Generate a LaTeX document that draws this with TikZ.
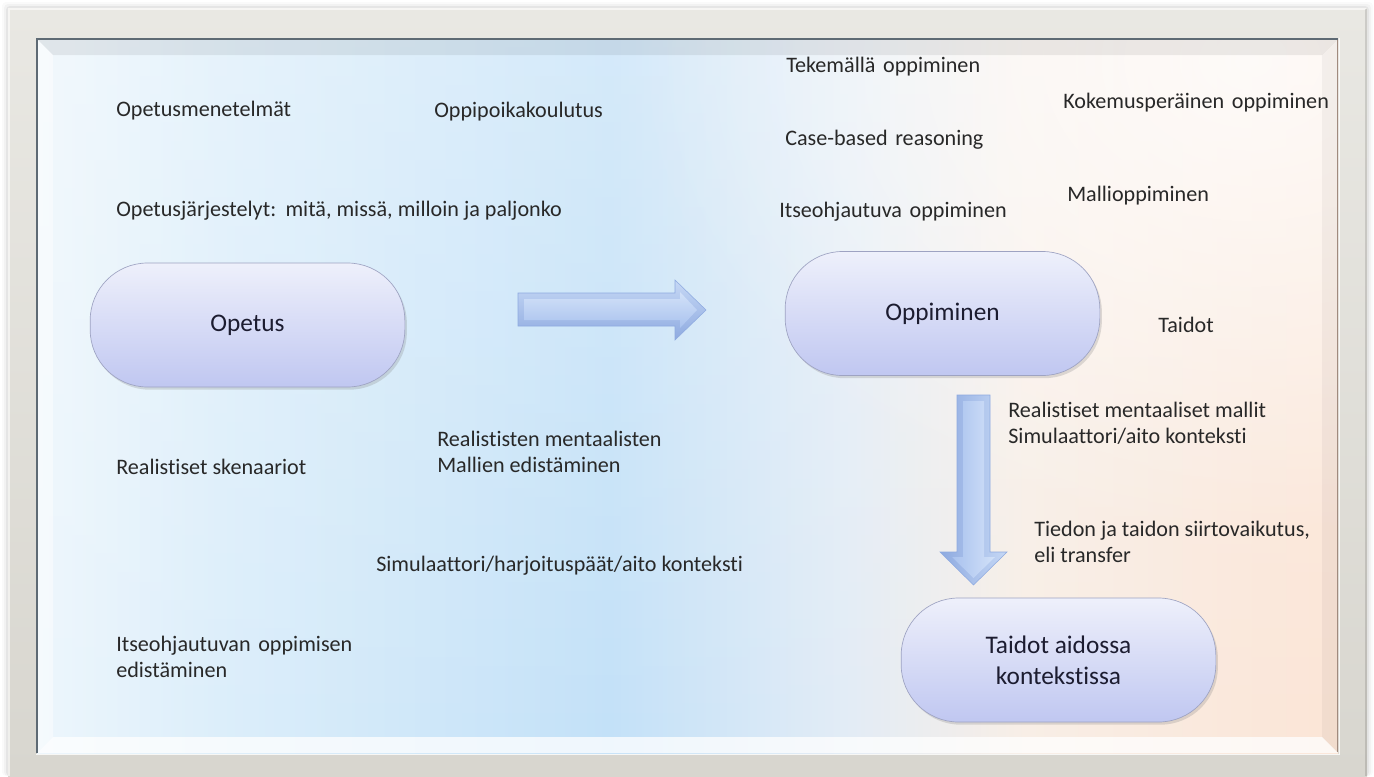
\documentclass[tikz,border=0pt]{standalone}
\usepackage{fontspec}
\setmainfont{Carlito}[Ligatures=NoCommon]
\usetikzlibrary{shadows,fadings}
\definecolor{framegreyA}{HTML}{E9E8E3}
\definecolor{framegreyB}{HTML}{D8D6CF}
\definecolor{txtgrey}{HTML}{282828}
\definecolor{nodetxt}{HTML}{1C1C30}
\definecolor{nodetop}{HTML}{EEF0FB}
\definecolor{nodebot}{HTML}{C0C7F1}
\definecolor{nodeline}{HTML}{9EA3C2}
\definecolor{arrA}{HTML}{8EAAE0}
\definecolor{arrB}{HTML}{C6D8F5}
\definecolor{arrC}{HTML}{A9C2EE}
\definecolor{arrD}{HTML}{D2E1F8}
\definecolor{bg0}{HTML}{EDF6FC}
\definecolor{bg1}{HTML}{DCEEFA}
\definecolor{bg2}{HTML}{C3E1F8}
\definecolor{bg3}{HTML}{E2ECF6}
\definecolor{bg4}{HTML}{F8EEE6}
\definecolor{bg5}{HTML}{FBE5D6}
\definecolor{edgeTL}{HTML}{5E6A74}
\definecolor{edgeR}{HTML}{A08A7E}
\pgfdeclarehorizontalshading{bgshade}{100bp}{color(0bp)=(bg0); color(25bp)=(bg0); color(32bp)=(bg1); color(47bp)=(bg2); color(56bp)=(bg3); color(63bp)=(bg4); color(75bp)=(bg5); color(100bp)=(bg5)}
\tikzfading[name=topfade, top color=transparent!70, bottom color=transparent!100]
\tikzfading[name=cornerfade, inner color=transparent!25, outer color=transparent!100]
\newcommand{\wsp}{\hspace{0.12em} }
\tikzset{
  txt/.style={inner sep=0pt, anchor=base west, text=txtgrey, font=\fontsize{16.6}{20}\selectfont},
  pill/.style={rectangle, rounded corners=43pt, minimum width=236pt, minimum height=93pt,
    top color=nodetop, bottom color=nodebot, draw=nodeline, line width=0.5pt,
    text=nodetxt, font=\fontsize{19}{23}\selectfont, align=center,
    drop shadow={shadow xshift=1.5pt, shadow yshift=-2pt, opacity=0.25}},
}
\begin{document}
\begin{tikzpicture}[x=0.75pt,y=-0.75pt]
\useasboundingbox (0,0) rectangle (1374,776);
\fill[white] (0,0) rectangle (1374,776);
% soft shadow around the frame
\foreach \d/\o in {6/0.02,4/0.03,2/0.05}{
  \fill[black,opacity=\o,rounded corners=3pt] (8-\d,8-\d) rectangle (1367+\d,776);
}
% outer frame
\shade[top color=framegreyA, bottom color=framegreyB] (8,8) rectangle (1367,776);
\draw[white,opacity=0.6,line width=0.8pt] (9,776) -- (9,9) -- (1366,9);
\draw[black,opacity=0.12,line width=0.8pt] (1366,9) -- (1366,776);
% inner picture
\shade[shading=bgshade] (37,39) rectangle (1338,753);
\fill[white,path fading=topfade] (37,39) rectangle (1338,753);
\begin{scope}
  \clip (37,39) rectangle (1338,753);
  \fill[white,path fading=cornerfade,fit fading=true] (1250,60) ellipse [x radius=620, y radius=480];
\end{scope}
% bevels
\fill[black,opacity=0.07] (37,39) -- (1338,39) -- (1322,55) -- (53,55) -- cycle;
\fill[white,opacity=0.45] (37,39) -- (53,55) -- (53,737) -- (37,753) -- cycle;
\fill[white,opacity=0.75] (37,753) -- (53,737) -- (1322,737) -- (1338,753) -- cycle;
\fill[black,opacity=0.04] (1338,39) -- (1338,753) -- (1322,737) -- (1322,55) -- cycle;
\draw[white,opacity=0.8,line width=0.6pt] (36,754) -- (1339,754) -- (1339,38);
\draw[edgeTL,line width=1.2pt] (37,753) -- (37,39) -- (1338,39);
\draw[edgeR,line width=1pt] (1337.5,40) -- (1337.5,752);
% rounded boxes
\node[pill] (opetus) at (247.5,325) {Opetus};
\node[pill] (oppiminen) at (942.5,313.5) {Oppiminen};
\node[pill] (taidot) at (1058.5,660) {Taidot aidossa\\kontekstissa};
% right block arrow
\shade[top color=arrB, bottom color=arrA] (518,293) -- (675,293) -- (675,280) -- (706,310) -- (675,340) -- (675,326) -- (518,326) -- cycle;
\shade[top color=arrD, bottom color=arrC] (524,299) -- (680,299) -- (680,292) -- (697,310) -- (680,328) -- (680,320) -- (524,320) -- cycle;
\draw[arrA,line width=0.4pt] (518,293) -- (675,293) -- (675,280) -- (706,310) -- (675,340) -- (675,326) -- (518,326) -- cycle;
% down block arrow
\shade[left color=arrA, right color=arrB] (957,395) -- (990,395) -- (990,552) -- (1007,552) -- (973.5,585) -- (940,552) -- (957,552) -- cycle;
\shade[left color=arrC, right color=arrD] (963,401) -- (984,401) -- (984,557) -- (995,557) -- (973.5,578) -- (952,557) -- (963,557) -- cycle;
\draw[arrA,line width=0.4pt] (957,395) -- (990,395) -- (990,552) -- (1007,552) -- (973.5,585) -- (940,552) -- (957,552) -- cycle;
% texts
\node[txt] (t1) at (116,116) {Opetusmenetelmät};
\node[txt] (t2) at (434,117) {Oppipoikakoulutus};
\node[txt] (t3) at (116,216) {Opetusjärjestelyt:\wsp mitä, missä, milloin ja paljonko};
\node[txt] (t4) at (786,72) {Tekemällä\wsp oppiminen};
\node[txt] (t5) at (1063,108) {Kokemusperäinen\wsp oppiminen};
\node[txt] (t6) at (785,145) {Case-based\wsp reasoning};
\node[txt] (t7) at (1067,201) {Mallioppiminen};
\node[txt] (t8) at (779,217) {Itseohjautuva\wsp oppiminen};
\node[txt] (t9) at (1158,332) {Taidot};
\node[txt] (t10a) at (1008,417) {Realistiset mentaaliset mallit};
\node[txt] (t10b) at (1008,443) {Simulaattori/aito konteksti};
\node[txt] (t11a) at (1034,536) {Tiedon ja taidon siirtovaikutus,};
\node[txt] (t11b) at (1034,562) {eli transfer};
\node[txt] (t12a) at (437,446) {Realististen mentaalisten};
\node[txt] (t12b) at (437,472) {Mallien edistäminen};
\node[txt] (t13) at (116,474) {Realistiset skenaariot};
\node[txt] (t14) at (376,571) {Simulaattori/harjoituspäät/aito konteksti};
\node[txt] (t15a) at (116,651) {Itseohjautuvan\wsp oppimisen};
\node[txt] (t15b) at (116,677) {edistäminen};
\end{tikzpicture}
\end{document}
